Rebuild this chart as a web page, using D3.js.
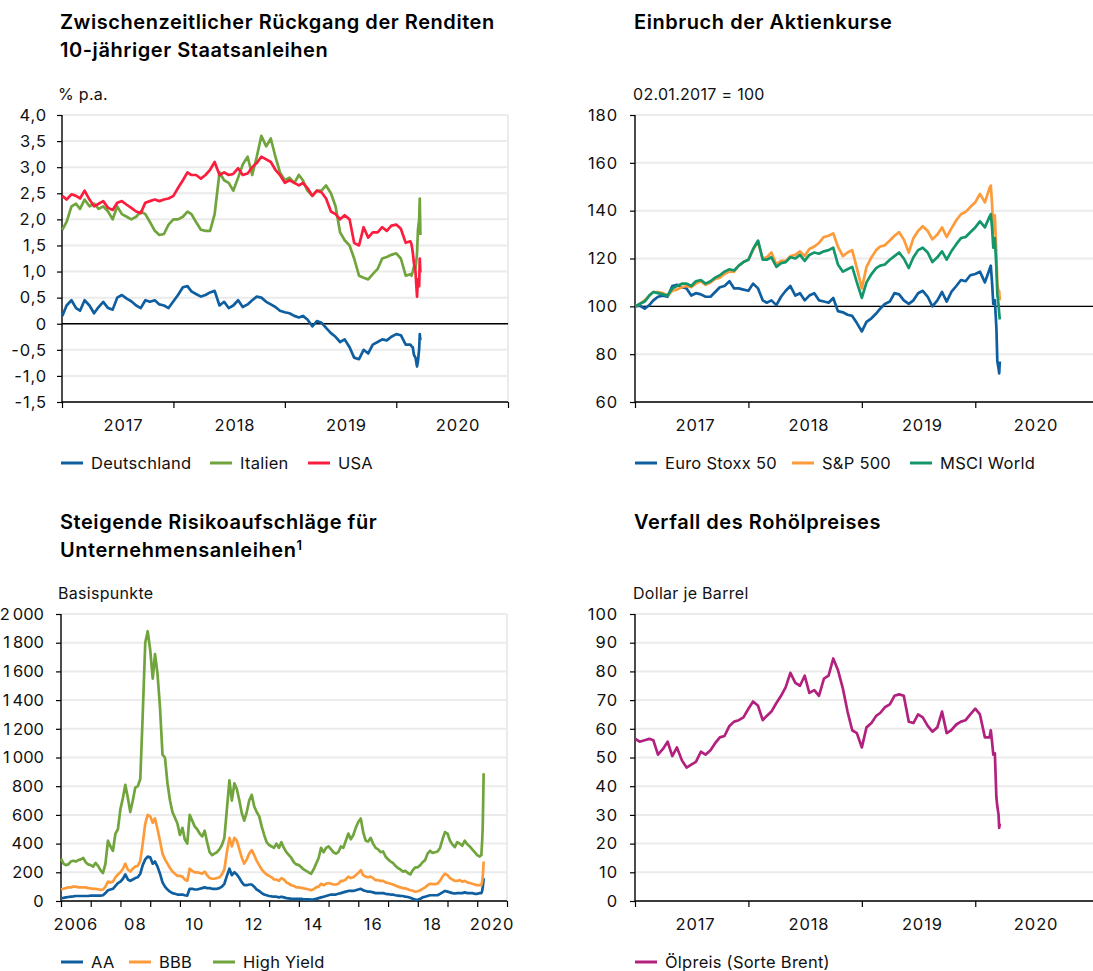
<!DOCTYPE html>
<html lang="de">
<head>
<meta charset="utf-8">
<title>Finanzmärkte</title>
<script src="https://cdn.jsdelivr.net/npm/d3@7"></script>
<style>
  body { margin: 0; background: #fff; }
  svg { display: block; }
</style>
</head>
<body>
<svg id="chart" width="1093" height="971"></svg>
<script>
// ---------- data ----------
// half-monthly observation dates for the 2017-2020 panels (plus the March 2020 sell-off)
const halfMonths = [
  "2017-01-02","2017-01-16","2017-02-01","2017-02-16","2017-03-01","2017-03-16","2017-04-01","2017-04-16",
  "2017-05-01","2017-05-16","2017-06-01","2017-06-16","2017-07-01","2017-07-16","2017-08-01","2017-08-16",
  "2017-09-01","2017-09-16","2017-10-01","2017-10-16","2017-11-01","2017-11-16","2017-12-01","2017-12-16",
  "2018-01-01","2018-01-16","2018-02-01","2018-02-16","2018-03-01","2018-03-16","2018-04-01","2018-04-16",
  "2018-05-01","2018-05-16","2018-06-01","2018-06-16","2018-07-01","2018-07-16","2018-08-01","2018-08-16",
  "2018-09-01","2018-09-16","2018-10-01","2018-10-16","2018-11-01","2018-11-16","2018-12-01","2018-12-16",
  "2019-01-01","2019-01-16","2019-02-01","2019-02-16","2019-03-01","2019-03-16","2019-04-01","2019-04-16",
  "2019-05-01","2019-05-16","2019-06-01","2019-06-16","2019-07-01","2019-07-16","2019-08-01","2019-08-16",
  "2019-09-01","2019-09-16","2019-10-01","2019-10-16","2019-11-01","2019-11-16","2019-12-01","2019-12-16",
  "2020-01-01","2020-01-16","2020-02-01","2020-02-16",
  "2020-02-20","2020-02-24","2020-02-28","2020-03-04","2020-03-09","2020-03-12","2020-03-16","2020-03-18","2020-03-20"
];

// 10-year government bond yields, % p.a.
const yieldNames = ["Deutschland", "Italien", "USA"];
const yieldDE = [
  0.15, 0.35, 0.45, 0.30, 0.25, 0.45, 0.35, 0.20, 0.32, 0.42, 0.30, 0.27, 0.50, 0.55, 0.48, 0.43, 0.35, 0.30, 0.45, 0.42, 0.45, 0.37, 0.35, 0.30,
  0.43, 0.55, 0.70, 0.72, 0.62, 0.57, 0.52, 0.55, 0.60, 0.63, 0.35, 0.42, 0.30, 0.35, 0.45, 0.32, 0.37, 0.45, 0.52, 0.50, 0.42, 0.37, 0.32, 0.25,
  0.22, 0.20, 0.15, 0.12, 0.15, 0.08, -0.05, 0.05, 0.02, -0.08, -0.18, -0.25, -0.35, -0.30, -0.45, -0.65, -0.68, -0.50, -0.57, -0.40, -0.35, -0.30, -0.32, -0.25,
  -0.20, -0.22, -0.40, -0.40,
  -0.43, -0.45, -0.60, -0.65, -0.82, -0.72, -0.48, -0.20, -0.32
];
const yieldIT = [
  1.80, 1.95, 2.25, 2.30, 2.20, 2.38, 2.25, 2.30, 2.20, 2.25, 2.15, 2.00, 2.25, 2.10, 2.05, 2.00, 2.05, 2.15, 2.10, 1.95, 1.78, 1.70, 1.72, 1.90,
  2.00, 2.00, 2.05, 2.15, 2.10, 1.95, 1.80, 1.78, 1.78, 2.10, 2.90, 2.75, 2.70, 2.55, 2.80, 3.05, 3.20, 2.85, 3.20, 3.60, 3.40, 3.55, 3.20, 2.90,
  2.75, 2.80, 2.70, 2.85, 2.75, 2.55, 2.45, 2.55, 2.55, 2.65, 2.50, 2.25, 1.75, 1.60, 1.50, 1.25, 0.92, 0.88, 0.85, 0.95, 1.05, 1.25, 1.28, 1.32,
  1.35, 1.25, 0.92, 0.95,
  0.92, 1.00, 1.10, 1.05, 1.35, 1.80, 2.00, 2.40, 1.70
];
const yieldUS = [
  2.45, 2.38, 2.48, 2.45, 2.40, 2.55, 2.38, 2.25, 2.30, 2.35, 2.22, 2.18, 2.32, 2.35, 2.28, 2.22, 2.15, 2.12, 2.32, 2.35, 2.38, 2.35, 2.38, 2.40,
  2.45, 2.60, 2.75, 2.90, 2.85, 2.85, 2.78, 2.85, 2.95, 3.10, 2.85, 2.90, 2.85, 2.87, 2.98, 2.85, 2.88, 3.00, 3.08, 3.20, 3.15, 3.10, 2.95, 2.85,
  2.70, 2.75, 2.70, 2.65, 2.70, 2.60, 2.45, 2.55, 2.52, 2.40, 2.15, 2.10, 2.00, 2.08, 2.00, 1.55, 1.50, 1.85, 1.65, 1.75, 1.75, 1.85, 1.78, 1.88,
  1.90, 1.82, 1.55, 1.58,
  1.52, 1.37, 1.15, 1.00, 0.52, 0.85, 0.72, 1.25, 0.98
];

// stock indices, 02.01.2017 = 100
const stockNames = ["Euro Stoxx 50", "S&P 500", "MSCI World"];
const euroStoxx = [
  100.0, 100.3, 99.0, 100.5, 102.5, 104.0, 104.5, 104.0, 108.5, 109.0, 108.0, 107.5, 104.5, 105.5, 105.0, 104.0, 104.0, 106.0, 108.0, 108.5, 110.5, 107.5, 107.5, 107.0,
  106.5, 109.5, 107.5, 102.5, 101.5, 102.5, 100.5, 104.0, 106.5, 108.5, 104.5, 105.5, 102.5, 104.5, 105.5, 102.5, 102.0, 101.5, 103.5, 98.0, 97.5, 96.5, 96.0, 93.0,
  89.5, 93.5, 95.0, 97.0, 99.0, 101.0, 102.0, 105.5, 105.0, 102.5, 101.0, 102.5, 105.5, 106.5, 104.0, 100.0, 102.5, 106.0, 102.0, 106.0, 108.5, 111.0, 110.5, 113.0,
  113.5, 114.5, 110.0, 115.5,
  117.0, 110.0, 101.0, 102.5, 91.0, 77.0, 74.0, 72.0, 77.0
];
const sp500 = [
  100.0, 101.0, 102.5, 104.5, 106.0, 106.0, 105.5, 104.5, 106.5, 107.0, 108.0, 108.5, 108.0, 109.5, 110.5, 109.0, 110.0, 111.5, 112.0, 113.5, 114.5, 114.5, 117.0, 118.5,
  119.5, 123.5, 127.0, 120.0, 120.5, 122.5, 117.5, 119.0, 119.0, 121.0, 121.5, 123.0, 121.0, 124.0, 125.0, 126.5, 129.0, 129.5, 130.5, 125.0, 121.0, 122.5, 123.5, 116.0,
  107.5, 116.5, 120.5, 123.5, 125.0, 125.5, 127.5, 129.5, 131.0, 128.0, 122.5, 128.5, 131.5, 133.5, 131.5, 128.0, 130.0, 133.0, 129.0, 132.5, 136.0, 138.5, 139.5, 141.5,
  143.5, 147.0, 143.5, 149.5,
  150.5, 143.0, 131.0, 138.0, 122.0, 110.0, 105.5, 106.5, 102.5
];
const msciWorld = [
  100.0, 101.0, 102.0, 104.5, 106.0, 105.5, 105.0, 104.5, 107.5, 108.5, 109.5, 109.5, 108.5, 110.5, 111.0, 109.5, 110.5, 112.0, 113.0, 114.5, 115.5, 115.0, 117.0, 118.5,
  119.5, 124.0, 127.5, 119.5, 119.5, 120.5, 116.5, 118.0, 118.5, 120.5, 120.0, 121.5, 119.0, 121.5, 122.5, 122.0, 123.0, 123.5, 124.5, 117.5, 114.5, 115.5, 116.5, 110.0,
  103.5, 110.0, 113.5, 116.0, 117.0, 117.5, 119.5, 121.0, 122.5, 120.0, 116.0, 120.5, 123.5, 124.5, 122.5, 118.5, 120.5, 123.0, 119.5, 123.0, 126.0, 128.5, 129.0, 131.0,
  133.0, 135.5, 133.0, 137.5,
  138.5, 133.0, 124.5, 128.5, 116.0, 105.0, 100.5, 97.0, 94.5
];

// Brent, US dollar per barrel
const oilNames = ["Ölpreis (Sorte Brent)"];
const brent = [
  56.5, 55.5, 56.0, 56.5, 56.0, 51.0, 53.0, 55.5, 50.5, 53.5, 49.0, 46.5, 47.5, 48.5, 52.0, 51.0, 52.5, 55.0, 57.0, 57.5, 61.0, 62.5, 63.0, 64.0,
  67.0, 69.5, 68.0, 63.0, 64.5, 66.0, 69.0, 71.5, 74.5, 79.5, 76.0, 75.0, 78.5, 72.5, 73.5, 71.5, 77.5, 78.5, 84.5, 80.5, 74.0, 66.0, 59.5, 58.5,
  53.5, 60.5, 62.0, 64.5, 65.5, 67.5, 68.5, 71.5, 72.0, 71.5, 62.5, 62.0, 65.0, 64.0, 61.0, 59.0, 60.5, 66.0, 58.5, 59.5, 61.5, 62.5, 63.0, 65.0,
  67.0, 65.0, 57.0, 57.0,
  59.5, 55.5, 51.0, 51.5, 36.0, 33.0, 30.0, 25.5, 27.0
];

// monthly observation dates for the corporate bond spread panel
const spreadMonths = [
  "2006-01","2006-02","2006-03","2006-04","2006-05","2006-06","2006-07","2006-08","2006-09","2006-10","2006-11","2006-12",
  "2007-01","2007-02","2007-03","2007-04","2007-05","2007-06","2007-07","2007-08","2007-09","2007-10","2007-11","2007-12",
  "2008-01","2008-02","2008-03","2008-04","2008-05","2008-06","2008-07","2008-08","2008-09","2008-10","2008-11","2008-12",
  "2009-01","2009-02","2009-03","2009-04","2009-05","2009-06","2009-07","2009-08","2009-09","2009-10","2009-11","2009-12",
  "2010-01","2010-02","2010-03","2010-04","2010-05","2010-06","2010-07","2010-08","2010-09","2010-10","2010-11","2010-12",
  "2011-01","2011-02","2011-03","2011-04","2011-05","2011-06","2011-07","2011-08","2011-09","2011-10","2011-11","2011-12",
  "2012-01","2012-02","2012-03","2012-04","2012-05","2012-06","2012-07","2012-08","2012-09","2012-10","2012-11","2012-12",
  "2013-01","2013-02","2013-03","2013-04","2013-05","2013-06","2013-07","2013-08","2013-09","2013-10","2013-11","2013-12",
  "2014-01","2014-02","2014-03","2014-04","2014-05","2014-06","2014-07","2014-08","2014-09","2014-10","2014-11","2014-12",
  "2015-01","2015-02","2015-03","2015-04","2015-05","2015-06","2015-07","2015-08","2015-09","2015-10","2015-11","2015-12",
  "2016-01","2016-02","2016-03","2016-04","2016-05","2016-06","2016-07","2016-08","2016-09","2016-10","2016-11","2016-12",
  "2017-01","2017-02","2017-03","2017-04","2017-05","2017-06","2017-07","2017-08","2017-09","2017-10","2017-11","2017-12",
  "2018-01","2018-02","2018-03","2018-04","2018-05","2018-06","2018-07","2018-08","2018-09","2018-10","2018-11","2018-12",
  "2019-01","2019-02","2019-03","2019-04","2019-05","2019-06","2019-07","2019-08","2019-09","2019-10","2019-11","2019-12",
  "2020-01","2020-02",
  "2020-02-21","2020-03-02","2020-03-09","2020-03-16","2020-03-20"
];

// corporate bond spreads, basis points
const spreadNames = ["AA", "BBB", "High Yield"];
const spreadAA = [
  20, 22, 25, 28, 30, 32, 35, 35, 35, 35, 35, 35,
  38, 38, 38, 38, 38, 40, 55, 75, 80, 85, 105, 125,
  135, 155, 185, 150, 140, 150, 160, 165, 190, 250, 290, 310,
  305, 260, 275, 240, 190, 130, 100, 80, 65, 55, 50, 45,
  45, 45, 40, 38, 85, 85, 80, 80, 85, 90, 95, 90,
  90, 85, 85, 85, 90, 100, 120, 175, 225, 180, 200, 185,
  160, 130, 110, 110, 115, 115, 100, 80, 70, 55, 45, 40,
  35, 32, 30, 30, 25, 30, 25, 20, 18, 15, 15, 15,
  15, 15, 12, 12, 12, 10, 12, 15, 20, 25, 30, 35,
  40, 45, 45, 45, 50, 55, 60, 65, 70, 70, 70, 75,
  80, 85, 75, 70, 65, 65, 60, 55, 55, 55, 55, 50,
  48, 45, 45, 40, 38, 36, 35, 30, 28, 22, 15, 10,
  8, 15, 25, 30, 35, 40, 40, 40, 40, 50, 60, 70,
  65, 60, 55, 52, 55, 55, 55, 60, 55, 55, 55, 50,
  50, 55,
  55, 70, 95, 130, 160
];
const spreadBBB = [
  80, 85, 90, 95, 95, 100, 100, 95, 95, 95, 95, 90,
  88, 85, 85, 82, 78, 80, 100, 135, 130, 135, 165, 185,
  200, 225, 260, 220, 205, 225, 240, 245, 280, 400, 540, 600,
  590, 545, 575, 500, 420, 330, 290, 260, 230, 205, 190, 175,
  175, 170, 150, 140, 225, 210, 200, 200, 195, 190, 205, 180,
  160, 155, 155, 160, 165, 185, 220, 340, 440, 380, 440, 420,
  360, 300, 260, 290, 330, 355, 320, 280, 250, 220, 200, 185,
  175, 165, 150, 150, 140, 160, 150, 130, 120, 110, 105, 95,
  95, 92, 88, 85, 80, 75, 82, 95, 100, 120, 110, 120,
  125, 120, 115, 115, 120, 140, 140, 150, 170, 160, 165, 180,
  195, 215, 180, 170, 165, 170, 160, 145, 145, 140, 140, 130,
  125, 120, 115, 108, 100, 95, 90, 88, 82, 75, 72, 65,
  68, 75, 85, 95, 110, 120, 118, 118, 122, 140, 170, 190,
  180, 160, 150, 140, 140, 145, 135, 140, 130, 125, 120, 115,
  110, 110,
  112, 135, 170, 230, 275
];
const spreadHY = [
  295, 260, 250, 255, 275, 280, 275, 285, 290, 300, 270, 255,
  250, 240, 265, 245, 215, 195, 260, 420, 380, 350, 470, 500,
  640, 720, 810, 720, 620, 700, 790, 800, 850, 1300, 1800, 1880,
  1750, 1550, 1720, 1580, 1350, 1020, 1000, 820, 700, 620, 580, 540,
  460, 510, 430, 400, 600, 560, 520, 500, 470, 450, 490, 410,
  340, 320, 330, 340, 360, 390, 440, 640, 840, 700, 820, 780,
  700, 610, 560, 620, 700, 740, 660, 620, 590, 520, 460, 410,
  390, 380, 370, 400, 370, 410, 370, 340, 320, 300, 270, 255,
  250, 235, 220, 210, 200, 190, 220, 260, 300, 370, 340, 370,
  380, 360, 340, 330, 340, 380, 370, 420, 470, 430, 460, 510,
  550, 575, 480, 420, 415, 440, 400, 370, 360, 340, 345, 310,
  290, 275, 265, 245, 230, 220, 205, 210, 195, 185, 215, 235,
  235, 250, 270, 285, 330, 350, 335, 340, 345, 370, 430, 480,
  470, 420, 395, 375, 410, 400, 385, 420, 395, 380, 360, 340,
  320, 310,
  320, 420, 520, 750, 890
];

// tick labels
const yearLabels = ["2017", "2018", "2019", "2020"];
const spreadLabelYears = ["2006", "2008", "2010", "2012", "2014", "2016", "2018", "2020"];
const spreadLabels = ["2006", "08", "10", "12", "14", "16", "18", "2020"];

// ---------- drawing ----------
const FONT = "Inter, 'Open Sans', sans-serif";
const BLUE = "#0f5fa0", GREEN = "#70a43c", RED = "#fb1d3e",
      ORANGE = "#fd9a3a", TEAL = "#13966a", MAGENTA = "#b3217f";

const svg = d3.select("#chart").attr("font-family", FONT);
// German number format; narrow space as thousands separator so "2 000" fits left of the axis
const de = d3.formatLocale({ decimal: ",", thousands: "\u202f", grouping: [3], currency: ["", ""], minus: "-" });
const toDate = s => d3.isoParse(s.length === 7 ? s + "-01" : s);

function drawPanel(o) {
  const g = svg.append("g");
  const x = d3.scaleUtc().domain(o.xDomain.map(toDate)).range([o.left, o.right]);
  const y = d3.scaleLinear().domain(o.yDomain).range([o.bottom, o.top]);

  // light horizontal gridlines
  g.append("g").selectAll("line").data(o.yTicks).join("line")
    .attr("x1", o.left).attr("x2", o.gridRight)
    .attr("y1", d => y(d)).attr("y2", d => y(d))
    .attr("stroke", "#ebebeb").attr("stroke-width", 2);

  if (o.rightBorder) {
    g.append("line")
      .attr("x1", o.right).attr("x2", o.right).attr("y1", o.top).attr("y2", o.bottom)
      .attr("stroke", "#ebebeb").attr("stroke-width", 2);
  }

  // y axis
  const yAxis = g.append("g").attr("transform", `translate(${o.left},0)`)
    .call(d3.axisLeft(y).tickValues(o.yTicks).tickFormat(o.yFormat)
      .tickSize(5).tickSizeOuter(0).tickPadding(o.yPad));
  yAxis.attr("font-family", FONT).attr("font-size", 16.5);
  yAxis.select(".domain").remove();
  yAxis.selectAll(".tick line").attr("stroke", "#000").attr("stroke-width", 1.2);
  yAxis.selectAll(".tick text").attr("fill", "#111").attr("letter-spacing", o.ySpacing);

  // x axis ticks at year boundaries
  const xAxis = g.append("g").attr("transform", `translate(0,${o.bottom})`)
    .call(d3.axisBottom(x).tickValues(o.xTicks.map(toDate)).tickSize(6).tickFormat(""));
  xAxis.select(".domain").remove();
  xAxis.selectAll(".tick line").attr("stroke", "#000").attr("stroke-width", 1.2);

  // reference line (0 % or 100)
  if (o.refLine !== undefined) {
    g.append("line")
      .attr("x1", o.left).attr("x2", o.gridRight)
      .attr("y1", y(o.refLine)).attr("y2", y(o.refLine))
      .attr("stroke", "#000").attr("stroke-width", 1.3);
  }

  // axis lines
  g.append("line").attr("x1", o.left).attr("x2", o.gridRight)
    .attr("y1", o.bottom).attr("y2", o.bottom)
    .attr("stroke", "#000").attr("stroke-width", 1.4);
  g.append("line").attr("x1", o.left).attr("x2", o.left)
    .attr("y1", o.top).attr("y2", o.bottom)
    .attr("stroke", "#000").attr("stroke-width", 1.4);

  // year labels, centred in each period
  g.append("g").selectAll("text").data(o.xLabels).join("text")
    .attr("x", d => x(toDate(d.at)) + o.labelShift)
    .attr("y", o.bottom + 29)
    .attr("text-anchor", "middle")
    .attr("font-size", 16.5).attr("letter-spacing", 0.9).attr("fill", "#111")
    .text(d => d.text);

  // series
  const line = d3.line().x(d => x(d.date)).y(d => y(d.value));
  o.series.forEach(s => {
    const pts = o.dates.map((d, i) => ({ date: toDate(d), value: s.values[i] }));
    g.append("path").datum(pts)
      .attr("fill", "none").attr("stroke", s.color)
      .attr("stroke-width", 2.7).attr("stroke-linejoin", "round")
      .attr("d", line);
  });

  // title
  const title = g.append("text").attr("x", o.titleX).attr("y", o.titleY)
    .attr("font-size", 20).attr("font-weight", 600).attr("letter-spacing", 0.55).attr("fill", "#000");
  o.title.forEach((t, i) => {
    title.append("tspan").attr("x", o.titleX).attr("dy", i === 0 ? 0 : 27.5).text(t);
  });
  if (o.footnote) {
    title.append("tspan").attr("dy", -7).attr("font-size", 13).text(o.footnote);
  }

  // unit
  g.append("text").attr("x", o.unitX).attr("y", o.top - 15)
    .attr("font-size", 16).attr("letter-spacing", 0.3).attr("fill", "#111").text(o.unit);

  // legend
  const lg = g.append("g").selectAll("g").data(o.series).join("g")
    .attr("transform", (d, i) => `translate(${o.legendX[i]},${o.legendY})`);
  lg.append("line").attr("x1", 0).attr("x2", 22)
    .attr("stroke", d => d.color).attr("stroke-width", 3);
  lg.append("text").attr("x", 30).attr("y", 6)
    .attr("font-size", 16.5).attr("letter-spacing", 0.25).attr("fill", "#111")
    .text(d => d.name);
}

const fmtYield = v => v === 0 ? "0" : de.format(".1f")(v);

drawPanel({
  left: 62, right: 508, gridRight: 508, top: 115, bottom: 402, rightBorder: true,
  xDomain: ["2017-01-01", "2021-01-01"], xTicks: ["2017-01-01", "2018-01-01", "2019-01-01", "2020-01-01", "2021-01-01"],
  xLabels: yearLabels.map(t => ({ text: t, at: t + "-07-02" })), labelShift: 6,
  yDomain: [-1.5, 4], yTicks: d3.range(-1.5, 4.01, 0.5).map(v => +v.toFixed(1)), yFormat: fmtYield, yPad: 10, ySpacing: 0.9,
  refLine: 0, dates: halfMonths,
  series: [
    { name: yieldNames[0], color: BLUE, values: yieldDE },
    { name: yieldNames[1], color: GREEN, values: yieldIT },
    { name: yieldNames[2], color: RED, values: yieldUS }
  ],
  title: ["Zwischenzeitlicher Rückgang der Renditen", "10-jähriger Staatsanleihen"], titleX: 60, titleY: 29,
  unit: "% p.a.", unitX: 58,
  legendX: [61, 210, 308], legendY: 463
});

drawPanel({
  left: 635, right: 1089, gridRight: 1093, top: 115, bottom: 402, rightBorder: false,
  xDomain: ["2017-01-01", "2021-01-01"], xTicks: ["2017-01-01", "2018-01-01", "2019-01-01", "2020-01-01"],
  xLabels: yearLabels.map(t => ({ text: t, at: t + "-07-02" })), labelShift: 4,
  yDomain: [60, 180], yTicks: d3.range(60, 181, 20), yFormat: d3.format("d"), yPad: 12, ySpacing: 0.9,
  refLine: 100, dates: halfMonths,
  series: [
    { name: stockNames[0], color: BLUE, values: euroStoxx },
    { name: stockNames[1], color: ORANGE, values: sp500 },
    { name: stockNames[2], color: TEAL, values: msciWorld }
  ],
  title: ["Einbruch der Aktienkurse"], titleX: 634, titleY: 29,
  unit: "02.01.2017 = 100", unitX: 633,
  legendX: [635, 792, 910], legendY: 463
});

drawPanel({
  left: 61, right: 507, gridRight: 507, top: 614, bottom: 901, rightBorder: true,
  xDomain: ["2006-01-01", "2021-01-01"],
  xTicks: d3.range(2006, 2022).map(yr => `${yr}-01-01`),
  xLabels: spreadLabels.map((t, i) => ({ text: t, at: spreadLabelYears[i] + "-07-02" })), labelShift: 0,
  yDomain: [0, 2000], yTicks: d3.range(0, 2001, 200), yFormat: de.format(",d"), yPad: 12, ySpacing: 0.3,
  dates: spreadMonths,
  series: [
    { name: spreadNames[0], color: BLUE, values: spreadAA },
    { name: spreadNames[1], color: ORANGE, values: spreadBBB },
    { name: spreadNames[2], color: GREEN, values: spreadHY }
  ],
  title: ["Steigende Risikoaufschläge für", "Unternehmensanleihen"], footnote: "1", titleX: 60, titleY: 529,
  unit: "Basispunkte", unitX: 58,
  legendX: [61, 129, 213], legendY: 962
});

drawPanel({
  left: 635, right: 1089, gridRight: 1093, top: 614, bottom: 901, rightBorder: false,
  xDomain: ["2017-01-01", "2021-01-01"], xTicks: ["2017-01-01", "2018-01-01", "2019-01-01", "2020-01-01"],
  xLabels: yearLabels.map(t => ({ text: t, at: t + "-07-02" })), labelShift: 4,
  yDomain: [0, 100], yTicks: d3.range(0, 101, 10), yFormat: d3.format("d"), yPad: 12, ySpacing: 0.9,
  dates: halfMonths,
  series: [
    { name: oilNames[0], color: MAGENTA, values: brent }
  ],
  title: ["Verfall des Rohölpreises"], titleX: 634, titleY: 529,
  unit: "Dollar je Barrel", unitX: 633,
  legendX: [635], legendY: 962
});
</script>
</body>
</html>
